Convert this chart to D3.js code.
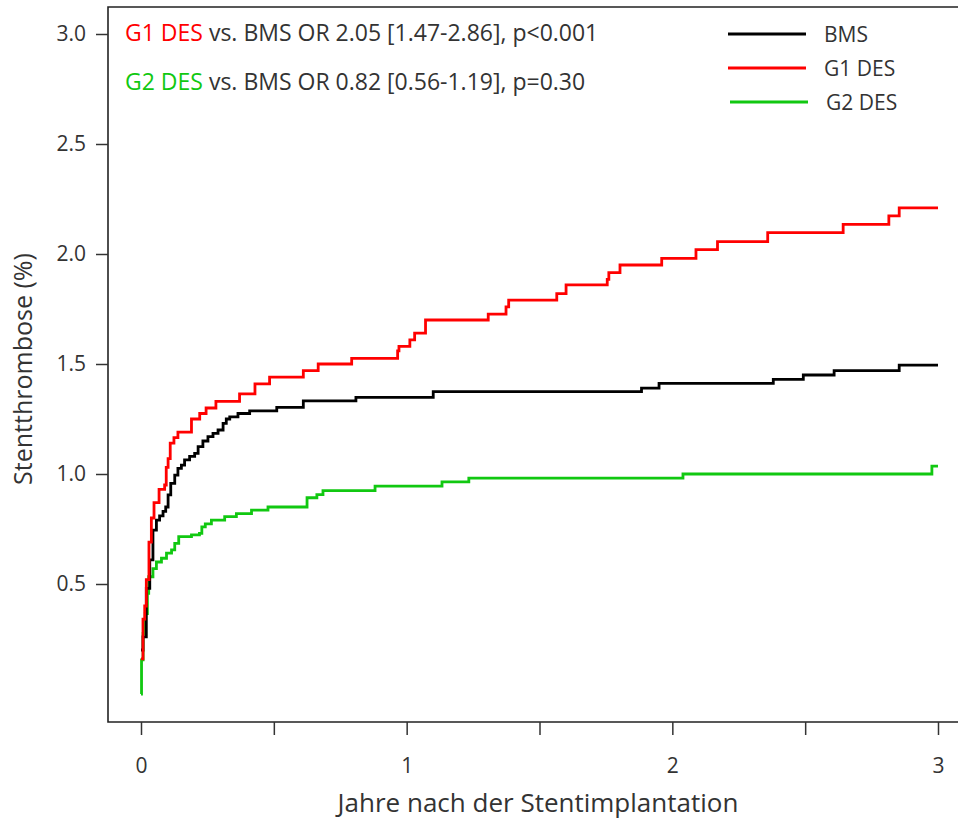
<!DOCTYPE html>
<html>
<head>
  <meta charset="utf-8">
  <script src="https://cdn.jsdelivr.net/npm/d3@7"></script>
  <style type="text/css">
    body { margin: 0; background: #fff; }
    text { font-family: "Open Sans", sans-serif; fill: #333; }
    .axis path { display: none; }
    .axis line { stroke: #333; stroke-width: 1.5; }
  </style>
</head>
<body>
  <div id="chartArea"></div>
  <script type="text/javascript">
    // Kaplan-Meier style steps: time in years, cumulative stent thrombosis in %
    let tBMS = [0, 0.0075, 0.02, 0.033, 0.045, 0.058, 0.07, 0.083, 0.093, 0.102, 0.112, 0.127, 0.139, 0.152, 0.164, 0.183, 0.202, 0.215, 0.233, 0.252, 0.271, 0.29, 0.309, 0.321, 0.334, 0.365, 0.409, 0.511, 0.611, 0.809, 1.10, 1.884, 1.95, 2.38, 2.493, 2.609, 2.854, 3.0];
    let vBMS = [0.2, 0.26, 0.48, 0.61, 0.745, 0.79, 0.81, 0.83, 0.85, 0.905, 0.957, 0.995, 1.026, 1.04, 1.064, 1.08, 1.094, 1.124, 1.15, 1.17, 1.185, 1.2, 1.23, 1.25, 1.26, 1.275, 1.287, 1.303, 1.332, 1.348, 1.374, 1.39, 1.412, 1.43, 1.45, 1.47, 1.495, 1.495];

    let tG1 = [0, 0.0075, 0.014, 0.02, 0.03, 0.039, 0.049, 0.068, 0.089, 0.095, 0.102, 0.11, 0.124, 0.139, 0.19, 0.221, 0.245, 0.282, 0.371, 0.429, 0.484, 0.611, 0.667, 0.793, 0.966, 0.971, 1.012, 1.03, 1.071, 1.307, 1.374, 1.384, 1.565, 1.60, 1.755, 1.761, 1.803, 1.96, 2.089, 2.17, 2.359, 2.643, 2.815, 2.854, 3.0];
    let vG1 = [0.16, 0.34, 0.40, 0.52, 0.69, 0.80, 0.87, 0.93, 0.95, 1.03, 1.07, 1.14, 1.165, 1.19, 1.25, 1.275, 1.30, 1.33, 1.364, 1.41, 1.44, 1.47, 1.50, 1.526, 1.56, 1.58, 1.61, 1.64, 1.70, 1.727, 1.76, 1.79, 1.82, 1.86, 1.885, 1.915, 1.95, 1.98, 2.02, 2.056, 2.097, 2.135, 2.173, 2.21, 2.21];

    let tG2 = [0, 0.002, 0.008, 0.016, 0.024, 0.029, 0.045, 0.058, 0.077, 0.096, 0.115, 0.127, 0.142, 0.19, 0.22, 0.229, 0.242, 0.265, 0.315, 0.359, 0.416, 0.478, 0.625, 0.662, 0.685, 0.881, 1.133, 1.234, 2.04, 2.977, 3.0];
    let vG2 = [0, 0.155, 0.275, 0.366, 0.457, 0.533, 0.57, 0.60, 0.617, 0.64, 0.655, 0.685, 0.715, 0.723, 0.73, 0.76, 0.773, 0.79, 0.806, 0.82, 0.836, 0.85, 0.892, 0.906, 0.924, 0.945, 0.964, 0.981, 1.0, 1.036, 1.036];

    let seriesNames = ['BMS', 'G1 DES', 'G2 DES'];
    let seriesColors = ['#000000', '#ff0000', '#11c811'];
    let yTicks = [0.5, 1.0, 1.5, 2.0, 2.5, 3.0];
    let xTicks = [0, 0.5, 1, 1.5, 2, 2.5, 3];
    let xTickLabels = [0, 1, 2, 3];

    let w = 958;
    let h = 823;
    let frameLeft = 108, frameTop = 7, frameBottom = 722;

    let xScale = d3.scaleLinear().domain([0, 3]).range([141, 938]);
    let yScale = d3.scaleLinear().domain([0, 3]).range([694, 34]);

    let svg = d3.select('#chartArea').append('svg')
      .attr('width', w)
      .attr('height', h);

    // frame (right side runs off the picture)
    svg.append('path')
      .attr('d', `M${w + 20},${frameTop}H${frameLeft}V${frameBottom}H${w + 20}`)
      .attr('fill', 'none')
      .attr('stroke', '#222')
      .attr('stroke-width', 1.6);

    let yAxis = d3.axisLeft(yScale)
      .tickValues(yTicks)
      .tickSize(12)
      .tickPadding(10)
      .tickFormat(d3.format('.1f'));

    svg.append('g')
      .attr('class', 'axis')
      .attr('transform', `translate(${frameLeft},0)`)
      .call(yAxis)
      .selectAll('text')
      .style('font-size', '21px');

    let xAxis = d3.axisBottom(xScale)
      .tickValues(xTicks)
      .tickSize(13)
      .tickPadding(23)
      .tickFormat(d => xTickLabels.includes(d) ? d : '');

    svg.append('g')
      .attr('class', 'axis')
      .attr('transform', `translate(0,${frameBottom})`)
      .call(xAxis)
      .selectAll('text')
      .style('font-size', '21px');

    svg.append('text')
      .attr('x', 538)
      .attr('y', 812)
      .attr('text-anchor', 'middle')
      .style('font-size', '26px')
      .text('Jahre nach der Stentimplantation');

    svg.append('text')
      .attr('transform', 'translate(32,369) rotate(-90)')
      .attr('text-anchor', 'middle')
      .style('font-size', '25px')
      .text('Stentthrombose (%)');

    let series = [
      { name: 'BMS', t: tBMS, v: vBMS },
      { name: 'G1 DES', t: tG1, v: vG1 },
      { name: 'G2 DES', t: tG2, v: vG2 }
    ];

    let line = d3.line()
      .x(d => xScale(d[0]))
      .y(d => yScale(d[1]))
      .curve(d3.curveStepAfter);

    // draw green first, black, red on top
    [2, 0, 1].forEach(i => {
      let s = series[i];
      svg.append('path')
        .datum(s.t.map((t, j) => [t, s.v[j]]))
        .attr('d', line)
        .attr('fill', 'none')
        .attr('stroke', seriesColors[i])
        .attr('stroke-width', 2.8);
    });

    // legend
    let legend = svg.selectAll('.legend')
      .data(seriesNames)
      .enter()
      .append('g')
      .attr('transform', (d, i) => `translate(0,${34 + i * 34})`);

    legend.append('line')
      .attr('x1', (d, i) => i == 2 ? 730 : 728)
      .attr('x2', (d, i) => i == 2 ? 808 : 806)
      .attr('stroke', (d, i) => seriesColors[i])
      .attr('stroke-width', 2.8);

    legend.append('text')
      .attr('x', (d, i) => i == 2 ? 826 : 824)
      .attr('y', 8)
      .style('font-size', '21px')
      .text(d => d);

    // odds ratio notes
    let notes = [
      { lead: 'G1 DES', color: seriesColors[1], rest: ' vs. BMS OR 2.05 [1.47-2.86], p<0.001' },
      { lead: 'G2 DES', color: seriesColors[2], rest: ' vs. BMS OR 0.82 [0.56-1.19], p=0.30' }
    ];

    notes.forEach((n, i) => {
      let t = svg.append('text')
        .attr('x', 125)
        .attr('y', 41 + i * 49)
        .style('font-size', '23px');
      t.append('tspan').style('fill', n.color).text(n.lead);
      t.append('tspan').text(n.rest);
    });
  </script>
</body>
</html>
